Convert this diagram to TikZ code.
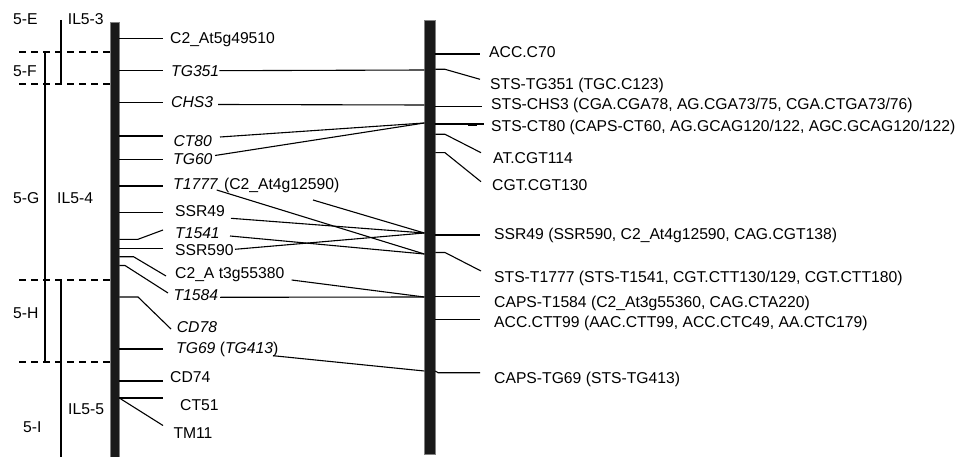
\documentclass[tikz,border=0pt]{standalone}
\usepackage{fontspec}
\setmainfont{Liberation Sans}
\usetikzlibrary{positioning}

\begin{document}
\begin{tikzpicture}[
  x=1pt, y=-1pt,
  mk/.style={inner sep=0pt, anchor=west, text height=11pt, text depth=0pt, font=\fontsize{15.7}{18}\selectfont},
  imk/.style={mk, font=\fontsize{15.7}{18}\selectfont\itshape},
  lnk/.style={line width=1.1pt},
  bound/.style={line width=1.1pt, dash pattern=on 7pt off 5pt},
  chrom/.style={fill=black!90, draw=black!50, line width=0.5pt, inner sep=0pt, anchor=north west}
]
\useasboundingbox (0,0) rectangle (974,457);

% the two chromosome 5 maps
\node[chrom, minimum width=9.3pt, minimum height=435pt] (lchr) at (110,22) {};
\node[chrom, minimum width=11pt, minimum height=434pt] (rchr) at (424.3,20) {};

% bins and introgression lines
\node[mk] (binE) at (13,19.3) {5-E};
\node[mk] (binF) at (13,70.7) {5-F};
\node[mk] (binG) at (13,198) {5-G};
\node[mk] (binH) at (13,312.7) {5-H};
\node[mk] (binI) at (23,426.7) {5-I};
\node[mk] (il3) at (67.7,19) {IL5-3};
\node[mk] (il4) at (57,198) {IL5-4};
\node[mk] (il5) at (68,409) {IL5-5};

\draw[bound] (19,52) -- (110,52);
\draw[bound] (19,84) -- (110,84);
\draw[bound] (19,280) -- (110,280);
\draw[bound] (19,362) -- (110,362);
\draw[lnk] (61,20) -- (61,84);
\draw[lnk] (45,52) -- (45,362);
\draw[lnk] (61,280) -- (61,457);

% left map: markers
\node[mk] (c2at5) at (170,38.3) {C2\_At5g49510};
\node[imk] (tg351) at (171,70.7) {TG351};
\node[imk] (chs3) at (171,101.7) {CHS3};
\node[imk] (ct80) at (173.3,140.7) {CT80};
\node[imk] (tg60) at (173,159.4) {TG60};
\node[imk] (t1777) at (173,183.7) {T1777};
\node[mk, right=6pt of t1777] (c2at4) {(C2\_At4g12590)};
\node[mk] (ssr49) at (175,210.7) {SSR49};
\node[imk] (t1541) at (175,232.7) {T1541};
\node[mk] (ssr590) at (175,250) {SSR590};
\node[mk] (c2at3) at (175,272.7) {C2\_A t3g55380};
\node[imk] (t1584) at (173.3,295) {T1584};
\node[imk] (cd78) at (176.7,326.7) {CD78};
\node[imk] (tg69) at (176,348.3) {TG69 {\upshape(}TG413{\upshape)}};
\node[mk] (cd74) at (170,376.7) {CD74};
\node[mk] (ct51) at (180,405) {CT51};
\node[mk] (tm11) at (173.3,432.7) {TM11};

% left map: tick points
\coordinate (c2at5-b) at (119.3,38.7);   \coordinate (c2at5-e) at (163,38.7);
\coordinate (tg351-b) at (119.3,70.7);   \coordinate (tg351-e) at (163,70.7);
\coordinate (chs3-b) at (119.3,102.3);   \coordinate (chs3-e) at (163,102.3);
\coordinate (ct80-b) at (119.3,136);     \coordinate (ct80-e) at (163,136);
\coordinate (tg60-b) at (119.3,159.3);   \coordinate (tg60-e) at (163,159.3);
\coordinate (t1777-b) at (119.3,186);    \coordinate (t1777-e) at (163,186);
\coordinate (ssr49-b) at (119.3,212.7);  \coordinate (ssr49-e) at (163,212.7);
\coordinate (t1541-b) at (119.3,239.3);  \coordinate (t1541-k) at (138,239.3);  \coordinate (t1541-e) at (163,230);
\coordinate (ssr590-b) at (119.3,248.5); \coordinate (ssr590-e) at (163,248.5);
\coordinate (c2at3-b) at (119.3,256.7);  \coordinate (c2at3-k) at (133.5,256.7); \coordinate (c2at3-e) at (166,276);
\coordinate (t1584-b) at (119.3,265.5);  \coordinate (t1584-k) at (125,265.5);   \coordinate (t1584-e) at (168,293);
\coordinate (cd78-b) at (119.3,297);     \coordinate (cd78-k) at (138,297);      \coordinate (cd78-e) at (171,329);
\coordinate (tg69-b) at (119.3,349);     \coordinate (tg69-e) at (163,349);
\coordinate (cd74-b) at (119.3,381);     \coordinate (cd74-e) at (163,381);
\coordinate (ct51-b) at (119.3,398);     \coordinate (ct51-e) at (163,398);
\coordinate (tm11-e) at (163,425.5);

\draw[lnk] (c2at5-b) -- (c2at5-e);
\draw[lnk] (tg351-b) -- (tg351-e);
\draw[lnk] (chs3-b) -- (chs3-e);
\draw[lnk] (ct80-b) -- (ct80-e);
\draw[lnk] (tg60-b) -- (tg60-e);
\draw[lnk] (t1777-b) -- (t1777-e);
\draw[lnk] (ssr49-b) -- (ssr49-e);
\draw[lnk] (t1541-b) -- (t1541-k) -- (t1541-e);
\draw[lnk] (ssr590-b) -- (ssr590-e);
\draw[lnk] (c2at3-b) -- (c2at3-k) -- (c2at3-e);
\draw[lnk] (t1584-b) -- (t1584-k) -- (t1584-e);
\draw[lnk] (cd78-b) -- (cd78-k) -- (cd78-e);
\draw[lnk] (tg69-b) -- (tg69-e);
\draw[lnk] (cd74-b) -- (cd74-e);
\draw[lnk] (ct51-b) -- (ct51-e);
\draw[lnk] (ct51-b) -- (tm11-e);

% right map: markers
\node[mk] (acc70) at (489,51.7) {ACC.C70};
\node[mk] (ststg351) at (490,84) {STS-TG351 (TGC.C123)};
\node[mk] (stschs3) at (491,104) {STS-CHS3 (CGA.CGA78, AG.CGA73/75, CGA.CTGA73/76)};
\node[mk] (stsct80) at (491,125.7) {STS-CT80 (CAPS-CT60, AG.GCAG120/122, AGC.GCAG120/122)};
\node[mk] (atcgt) at (493,158.3) {AT.CGT114};
\node[mk] (cgtcgt) at (492,185) {CGT.CGT130};
\node[mk] (ssr49r) at (494,234) {SSR49 (SSR590, C2\_At4g12590, CAG.CGT138)};
\node[mk] (stst1777) at (494,276.7) {STS-T1777 (STS-T1541, CGT.CTT130/129, CGT.CTT180)};
\node[mk] (capst1584) at (494,301.7) {CAPS-T1584 (C2\_At3g55360, CAG.CTA220)};
\node[mk] (acc99) at (494,321.7) {ACC.CTT99 (AAC.CTT99, ACC.CTC49, AA.CTC179)};
\node[mk] (capstg69) at (494,378) {CAPS-TG69 (STS-TG413)};

% right map: tick points
\coordinate (acc70-b) at (435.3,54);        \coordinate (acc70-e) at (480,54);
\coordinate (ststg351-b) at (435.3,69.3);   \coordinate (ststg351-k) at (445,69.3);  \coordinate (ststg351-e) at (480,79.3);
\coordinate (stschs3-b) at (435.3,106.7);   \coordinate (stschs3-e) at (482,106.7);
\coordinate (stsct80-b) at (435.3,124);     \coordinate (stsct80-e) at (484,124);
\coordinate (atcgt-b) at (435.3,134.3);     \coordinate (atcgt-k) at (445,134.3);    \coordinate (atcgt-e) at (481,152.7);
\coordinate (cgtcgt-b) at (435.3,152.7);    \coordinate (cgtcgt-k) at (445,152.7);   \coordinate (cgtcgt-e) at (481,181.7);
\coordinate (ssr49r-b) at (435.3,235);      \coordinate (ssr49r-e) at (480,235);
\coordinate (stst1777-b) at (435.3,252.5);  \coordinate (stst1777-k) at (445,252.5); \coordinate (stst1777-e) at (481,271);
\coordinate (capst1584-b) at (435.3,296.7); \coordinate (capst1584-e) at (480,296.7);
\coordinate (acc99-b) at (435.3,319.3);     \coordinate (acc99-e) at (480,319.3);
\coordinate (capstg69-b) at (435.3,371);    \coordinate (capstg69-k) at (438,372.7); \coordinate (capstg69-e) at (480,372.7);

\draw[lnk] (acc70-b) -- (acc70-e);
\draw[lnk] (ststg351-b) -- (ststg351-k) -- (ststg351-e);
\draw[lnk] (stschs3-b) -- (stschs3-e);
\draw[lnk] (stsct80-b) -- (stsct80-e);
\draw[lnk] (468,125.6) -- (477,125.6);
\draw[lnk] (atcgt-b) -- (atcgt-k) -- (atcgt-e);
\draw[lnk] (cgtcgt-b) -- (cgtcgt-k) -- (cgtcgt-e);
\draw[lnk] (ssr49r-b) -- (ssr49r-e);
\draw[lnk] (stst1777-b) -- (stst1777-k) -- (stst1777-e);
\draw[lnk] (capst1584-b) -- (capst1584-e);
\draw[lnk] (acc99-b) -- (acc99-e);
\draw[lnk] (capstg69-b) -- (capstg69-k) -- (capstg69-e);

% correspondences between the two maps
\coordinate (r-tg351) at (424.3,70);
\coordinate (r-chs3) at (424.3,105);
\coordinate (r-ct80) at (424.3,123);
\coordinate (r-ssr49) at (424.3,233);
\coordinate (r-t1777) at (424.3,254);
\coordinate (r-t1584) at (424.3,297);
\coordinate (r-tg69) at (424.3,371);
\coordinate (chs3-o) at (218,104.5);
\coordinate (ct80-o) at (220,137);
\coordinate (tg60-o) at (215,155.5);
\coordinate (t1777-o) at (216.7,190);
\coordinate (c2at4-o) at (313,200);
\coordinate (ssr49-o) at (231,218.3);
\coordinate (t1541-o) at (230,236);
\coordinate (ssr590-o) at (235,249.3);
\coordinate (c2at3-o) at (291.7,280);
\coordinate (t1584-o) at (220,297.3);
\coordinate (tg69-o) at (273,355.7);

\draw[lnk] (tg351.east) -- (r-tg351);
\draw[lnk] (chs3-o) -- (r-chs3);
\draw[lnk] (ct80-o) -- (r-ct80);
\draw[lnk] (tg60-o) -- (r-ct80);
\draw[lnk] (t1777-o) -- (r-t1777);
\draw[lnk] (c2at4-o) -- (r-ssr49);
\draw[lnk] (ssr49-o) -- (r-ssr49);
\draw[lnk] (t1541-o) -- (r-t1777);
\draw[lnk] (ssr590-o) -- (r-ssr49);
\draw[lnk] (c2at3-o) -- (r-t1584);
\draw[lnk] (t1584-o) -- (r-t1584);
\draw[lnk] (tg69-o) -- (r-tg69);
\end{tikzpicture}
\end{document}
